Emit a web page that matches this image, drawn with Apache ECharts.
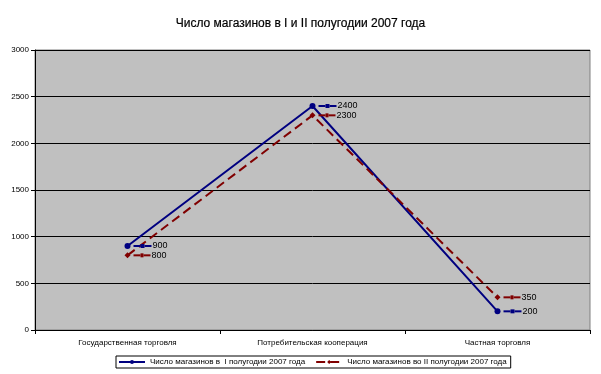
<!DOCTYPE html>
<html><head><meta charset="utf-8">
<script src="https://cdn.jsdelivr.net/npm/echarts@6/dist/echarts.min.js"></script>
<style>html,body{margin:0;padding:0;background:#fff}#c{width:601px;height:374px}</style>
</head><body><div id="c"></div>
<script>
const titleText = 'Число магазинов в I и II полугодии 2007 года';
const categories = ['Государственная торговля', 'Потребительская кооперация', 'Частная торговля'];
const seriesNames = ['Число магазинов в  I полугодии 2007 года', 'Число магазинов во II полугодии 2007 года'];
const half1 = [900, 2400, 200];
const half2 = [800, 2300, 350];
const yTicks = [0, 500, 1000, 1500, 2000, 2500, 3000];

const FONT = 'Liberation Sans, Arial, sans-serif';
function lbl(color, markW, markH) {
  return {
    show: true, position: 'right', distance: 3,
    formatter: '{a|}{m|}{a|}{v|{c}}',
    rich: {
      a: {width: 7, height: 2, backgroundColor: color},
      m: {width: markW, height: markH, backgroundColor: color},
      v: {fontSize: 9, color: '#000', fontFamily: FONT, padding: [0, 0, 0, 1]}
    }
  };
}
const chart = echarts.init(document.getElementById('c'), null, {renderer: 'canvas'});
chart.setOption({
  animation: false,
  backgroundColor: '#fff',
  title: {text: titleText, left: 'center', top: 13,
    textStyle: {fontSize: 12, fontWeight: 'normal', color: '#000', fontFamily: FONT, textBorderColor: '#000', textBorderWidth: 0.2}},
  grid: {left: 35, right: 11, top: 50, bottom: 44, show: true,
    backgroundColor: '#c0c0c0', borderColor: '#808080', borderWidth: 1},
  legend: {bottom: 6, left: 116, itemGap: 10, itemWidth: 26, itemHeight: 5,
    borderColor: '#000', borderWidth: 1, padding: [2, 4, 2, 2],
    textStyle: {fontSize: 8, color: '#000', fontFamily: FONT}},
  xAxis: {type: 'category', data: categories, boundaryGap: true,
    axisLine: {lineStyle: {color: '#000', width: 1}},
    axisTick: {show: true, length: 4, inside: false, lineStyle: {color: '#000'}},
    axisLabel: {fontSize: 8, color: '#000', fontFamily: FONT, margin: 9}},
  yAxis: {type: 'value', min: yTicks[0], max: yTicks[yTicks.length - 1], interval: 500,
    axisLine: {show: true, lineStyle: {color: '#000', width: 1}},
    axisTick: {show: true, length: 4, lineStyle: {color: '#000'}},
    axisLabel: {fontSize: 8, color: '#000', fontFamily: FONT, margin: 6, formatter: v => String(v)},
    splitLine: {show: true, lineStyle: {color: '#000', width: 1}}},
  series: [
    {name: seriesNames[0], type: 'line', data: half1, color: '#000080',
      lineStyle: {width: 2, color: '#000080'}, symbol: 'circle', symbolSize: 6,
      itemStyle: {color: '#000080'}, label: lbl('#000080', 4, 4)},
    {name: seriesNames[1], type: 'line', data: half2, color: '#800000',
      lineStyle: {width: 2, color: '#800000', type: [9, 5]}, symbol: 'diamond', symbolSize: 6,
      itemStyle: {color: '#800000'}, label: lbl('#800000', 3, 4)}
  ]
});
</script></body></html>
